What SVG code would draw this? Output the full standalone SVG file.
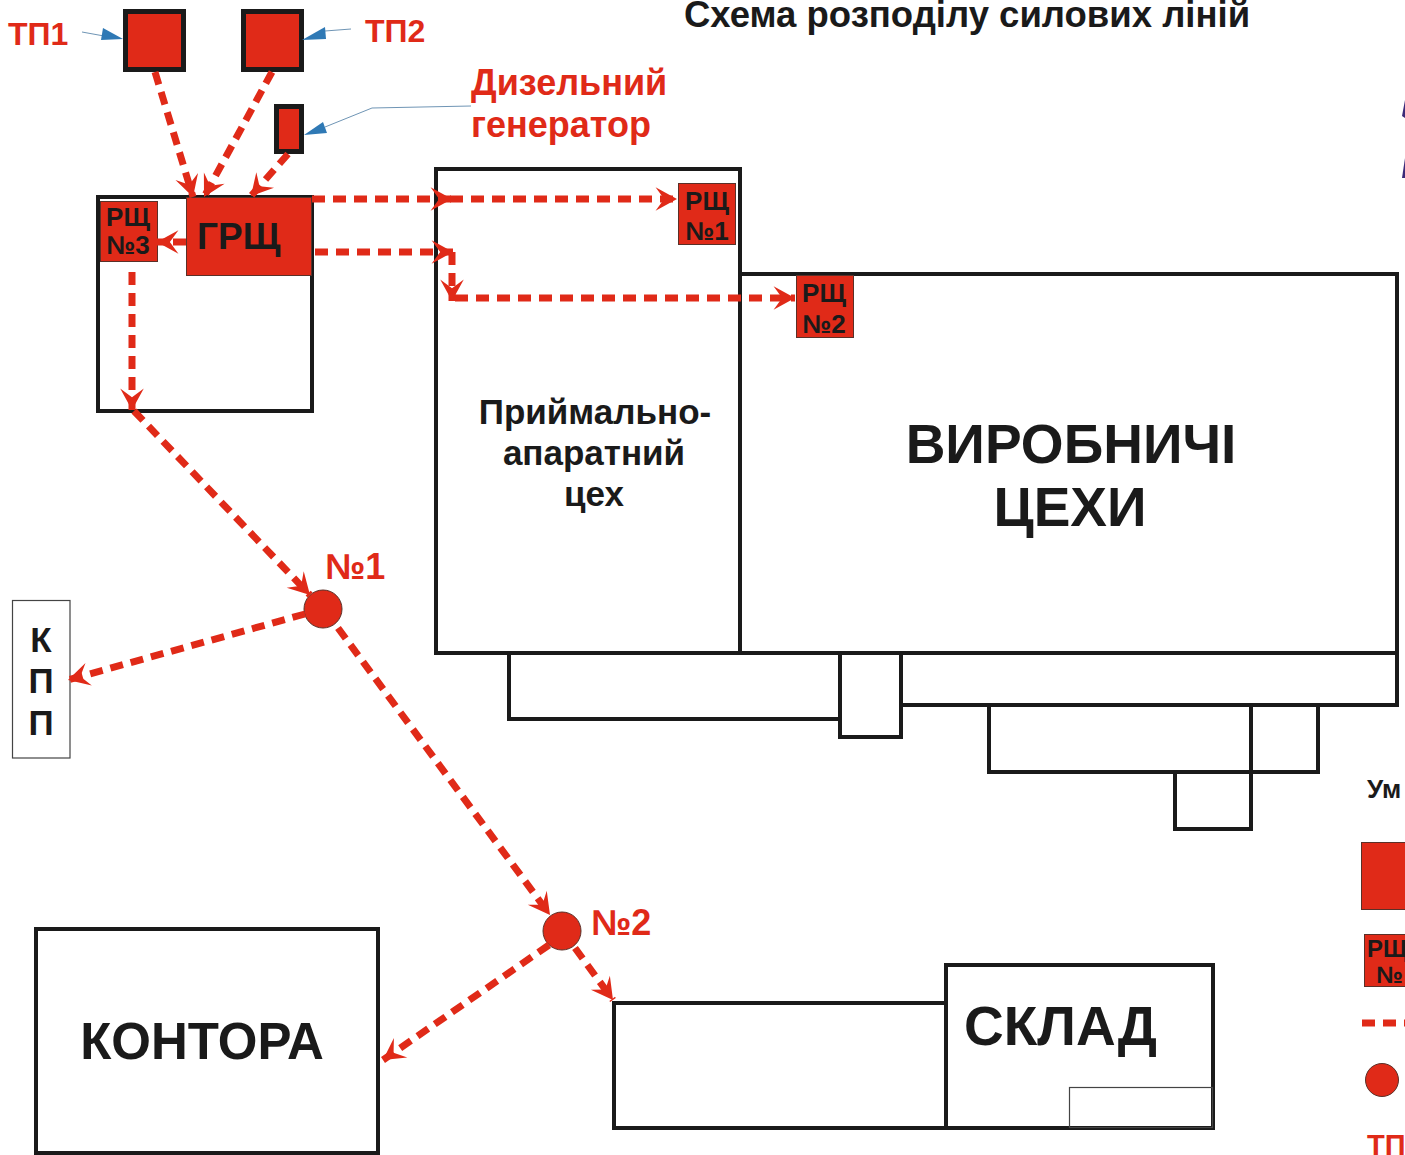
<svg xmlns="http://www.w3.org/2000/svg" width="1405" height="1155" viewBox="0 0 1405 1155">
<defs>
<style>
text{font-family:"Liberation Sans",Arial,sans-serif;font-weight:700;fill:#1a1a1a}
.r{fill:#e02a18}
.b{fill:none;stroke:#1a1a1a;stroke-width:4}
.t{fill:none;stroke:#444;stroke-width:1.2}
.n{fill:#e02a18;stroke:#1a1a1a;stroke-width:5}
.p{fill:#e02a18;stroke:#5a3028;stroke-width:1}
.c{fill:none;stroke:#e02a18;stroke-width:7;stroke-dasharray:13 8;marker-end:url(#a)}
.l{fill:none;stroke:#6f95b5;stroke-width:1}
.h{fill:#2f79b5}
.m{text-anchor:middle}
</style>
<marker id="a" markerUnits="userSpaceOnUse" markerWidth="30" markerHeight="30" refX="26" refY="13" orient="auto" viewBox="0 0 28 26"><path d="M26 13L6 2L14 13L6 24Z" fill="#e02a18"/></marker>
</defs>
<rect width="1405" height="1155" fill="#fff"/>
<text id="title" x="684" y="27" font-size="36.5">Схема розподілу силових ліній</text>
<g id="building-grsch"><rect class="b" x="98" y="197" width="214" height="214"/></g>
<g id="workshop-reception"><rect class="b" x="436" y="169" width="304" height="484"/><text class="m" x="595" y="424" font-size="35">Приймально-</text><text class="m" x="594" y="465" font-size="35">апаратний</text><text class="m" x="594" y="506" font-size="35">цех</text></g>
<g id="workshop-production"><rect class="b" x="740" y="274" width="657" height="379"/><text class="m" x="1071" y="463" font-size="55">ВИРОБНИЧІ</text><text class="m" x="1070" y="526" font-size="55">ЦЕХИ</text></g>
<g id="annexes"><rect class="b" x="509" y="653" width="331" height="66"/><rect class="b" x="840" y="653" width="61" height="84"/><path class="b" d="M901 653H1397V705H901"/><rect class="b" x="989" y="705" width="262" height="67"/><rect class="b" x="1251" y="705" width="67" height="67"/><rect class="b" x="1175" y="772" width="76" height="57"/></g>
<g id="kpp"><rect class="t" x="12.500" y="600.500" width="57.500" height="157.500"/><text class="m" x="41" y="652" font-size="35">К</text><text class="m" x="41" y="693" font-size="35">П</text><text class="m" x="41" y="735" font-size="35">П</text></g>
<g id="kontora"><rect class="b" x="36" y="929" width="342" height="224"/><text class="m" x="202" y="1059" font-size="51">КОНТОРА</text></g>
<g id="sklad"><rect class="b" x="614" y="1003" width="332" height="125"/><rect class="b" x="946" y="965" width="267" height="163"/><rect class="t" x="1069.500" y="1087.500" width="143" height="40"/><text x="964" y="1045" font-size="55">СКЛАД</text></g>
<g id="tp1"><rect class="n" x="125.500" y="11.500" width="58" height="58"/><text class="r" x="8" y="45" font-size="32">ТП1</text></g>
<g id="tp2"><rect class="n" x="243.500" y="11.500" width="58" height="58"/><text class="r" x="365" y="42" font-size="32">ТП2</text></g>
<g id="diesel"><rect class="n" x="276.500" y="106.500" width="25" height="45"/><text class="r" x="471" y="95" font-size="36">Дизельний</text><text class="r" x="471" y="137" font-size="36">генератор</text></g>
<g id="grsch"><rect class="p" x="186.500" y="197.500" width="125" height="78"/><text x="197" y="249" font-size="37">ГРЩ</text></g>
<g id="rsch3"><rect class="p" x="100.500" y="201.500" width="57" height="60"/><text class="m" x="128" y="226" font-size="26">РЩ</text><text class="m" x="128" y="254" font-size="26">№3</text></g>
<g id="rsch1"><rect class="p" x="678.500" y="183.500" width="57" height="61"/><text class="m" x="707" y="210" font-size="26">РЩ</text><text class="m" x="707" y="240" font-size="26">№1</text></g>
<g id="rsch2"><rect class="p" x="796.500" y="275.500" width="57" height="62"/><text class="m" x="824" y="302" font-size="26">РЩ</text><text class="m" x="824" y="333" font-size="26">№2</text></g>
<g id="node1"><circle class="p" cx="323" cy="609" r="19"/><text class="r" x="325" y="579" font-size="36">№1</text></g>
<g id="node2"><circle class="p" cx="562" cy="931" r="19"/><text class="r" x="591" y="935" font-size="36">№2</text></g>
<g id="connectors">
<path class="c" d="M155 72L193 197"/>
<path class="c" d="M272 72L204 197"/>
<path class="c" d="M288 154L251 196"/>
<path class="c" d="M186 242H157"/>
<path class="c" d="M312 199H452"/>
<path class="c" d="M450 199H677"/>
<path class="c" d="M315 252H453"/>
<path class="c" d="M452 252V301"/>
<path class="c" d="M455 298H795"/>
<path class="c" d="M132 272V410"/>
<path class="c" d="M134 411L310 595"/>
<path class="c" d="M305 614L68 680"/>
<path class="c" d="M338 628L550 915"/>
<path class="c" d="M549 945L383 1060"/>
<path class="c" d="M575 948L613 1000"/>
</g>
<g id="callouts">
<path class="l" d="M82 32L104 36"/><path class="h" d="M123 39L103 28L101 40Z"/>
<path class="l" d="M351 29L325 31"/><path class="h" d="M302 40L325 27L326 39Z"/>
<path class="l" d="M471 106L372 108L325 127"/><path class="h" d="M304 135L323 122L327 133Z"/>
</g>
<g id="legend">
<text x="1367" y="798" font-size="26">Ум</text>
<rect class="p" x="1361.500" y="842.500" width="60" height="67"/>
<rect class="p" x="1364.500" y="934.500" width="60" height="52"/>
<text x="1367" y="957" font-size="24">РЩ</text><text x="1376" y="983" font-size="24">№</text>
<path d="M1362 1023H1412" fill="none" stroke="#e02a18" stroke-width="7" stroke-dasharray="13 8"/>
<circle class="p" cx="1382" cy="1080" r="16.500"/>
<text class="r" x="1367" y="1155" font-size="29">ТП</text>
</g>
<g id="edge-fragments" fill="#3c2a78"><path d="M1405 100L1402 116L1405 118Z"/><path d="M1405 158L1402 178H1405Z"/></g>
</svg>
